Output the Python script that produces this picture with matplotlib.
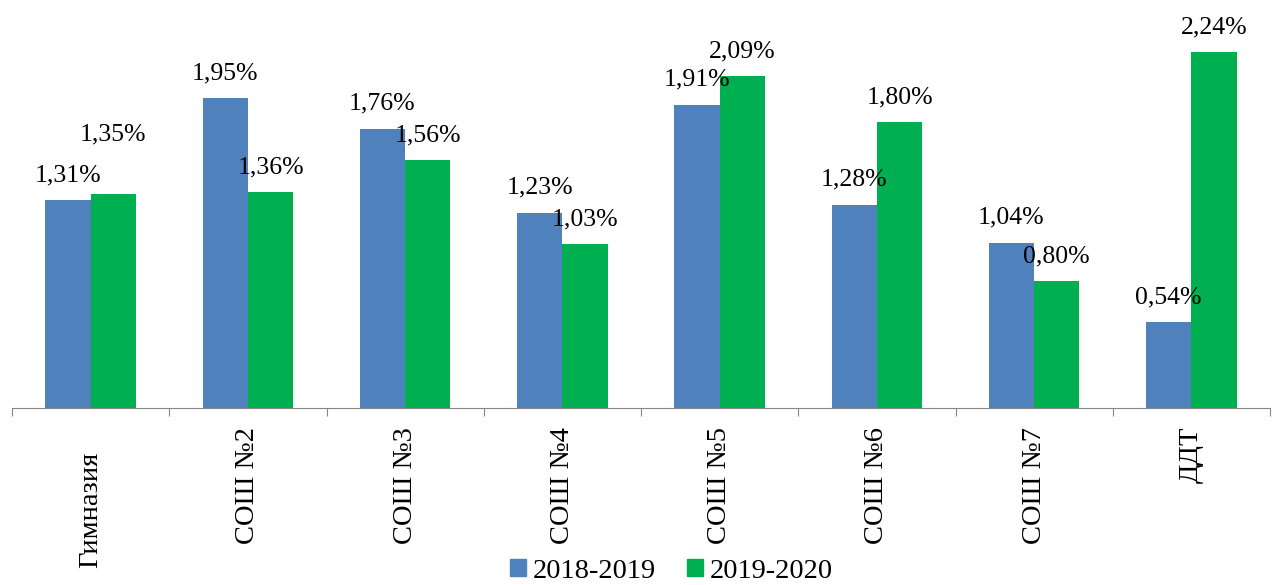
import numpy as np
import matplotlib.pyplot as plt
from matplotlib.patches import Patch
from matplotlib.transforms import offset_copy

plt.rcParams['font.family'] = ['Liberation Serif', 'DejaVu Serif']

# Data
schools = ["Гимназия", "СОШ №2", "СОШ №3", "СОШ №4", "СОШ №5", "СОШ №6", "СОШ №7", "ДДТ"]
years = ["2018-2019", "2019-2020"]
vals_2018 = [1.31, 1.95, 1.76, 1.23, 1.91, 1.28, 1.04, 0.54]
vals_2019 = [1.35, 1.36, 1.56, 1.03, 2.09, 1.80, 0.80, 2.24]

blue = "#4f81bd"
green = "#00b050"

fig = plt.figure(figsize=(12.72, 5.85), dpi=100)
ax = fig.add_axes([12 / 1272, 177 / 585, 1258 / 1272, 408 / 585])

x = np.arange(len(schools))
w = 0.288
bars1 = ax.bar(x - w / 2, vals_2018, w, color=blue)
bars2 = ax.bar(x + w / 2, vals_2019, w, color=green)

ax.set_xlim(-0.5, len(schools) - 0.5)
ax.set_ylim(0, 2.57)

# value labels (a bit higher above the first green bar)
for bars, vals, series in [(bars1, vals_2018, 0), (bars2, vals_2019, 1)]:
    for i, (b, v) in enumerate(zip(bars, vals)):
        lift = 43 if (series == 1 and i == 0) else 18
        ax.annotate(f"{v:.2f}%".replace(".", ","),
                    (b.get_x() + b.get_width() / 2, v),
                    xytext=(0, lift), textcoords="offset points",
                    ha="center", va="center", fontsize=18.5)

for s in ["left", "right", "top"]:
    ax.spines[s].set_visible(False)
ax.spines["bottom"].set_color("#868686")
ax.set_yticks([])

# category boundaries as ticks, names in between
ax.set_xticks(np.arange(-0.5, len(schools)), minor=False)
ax.set_xticklabels([])
ax.tick_params(axis="x", which="major", direction="out", length=6, color="#868686")
for i, name in enumerate(schools):
    tr = ax.get_xaxis_transform()
    dy = -44 if i == 0 else -19
    ax.text(i, 0, name, rotation=90, ha="center", va="top", fontsize=20.5,
            transform=offset_copy(tr, fig=fig, y=dy, units="dots"))

handles = [Patch(color=blue), Patch(color=green)]
fig.legend(handles, years, loc="lower center", bbox_to_anchor=(0.528, -0.042),
           ncol=2, frameon=False, fontsize=20.5, handlelength=0.55, handleheight=0.55,
           handletextpad=0.25, columnspacing=1.1)

fig.savefig("out.png", dpi=100)
